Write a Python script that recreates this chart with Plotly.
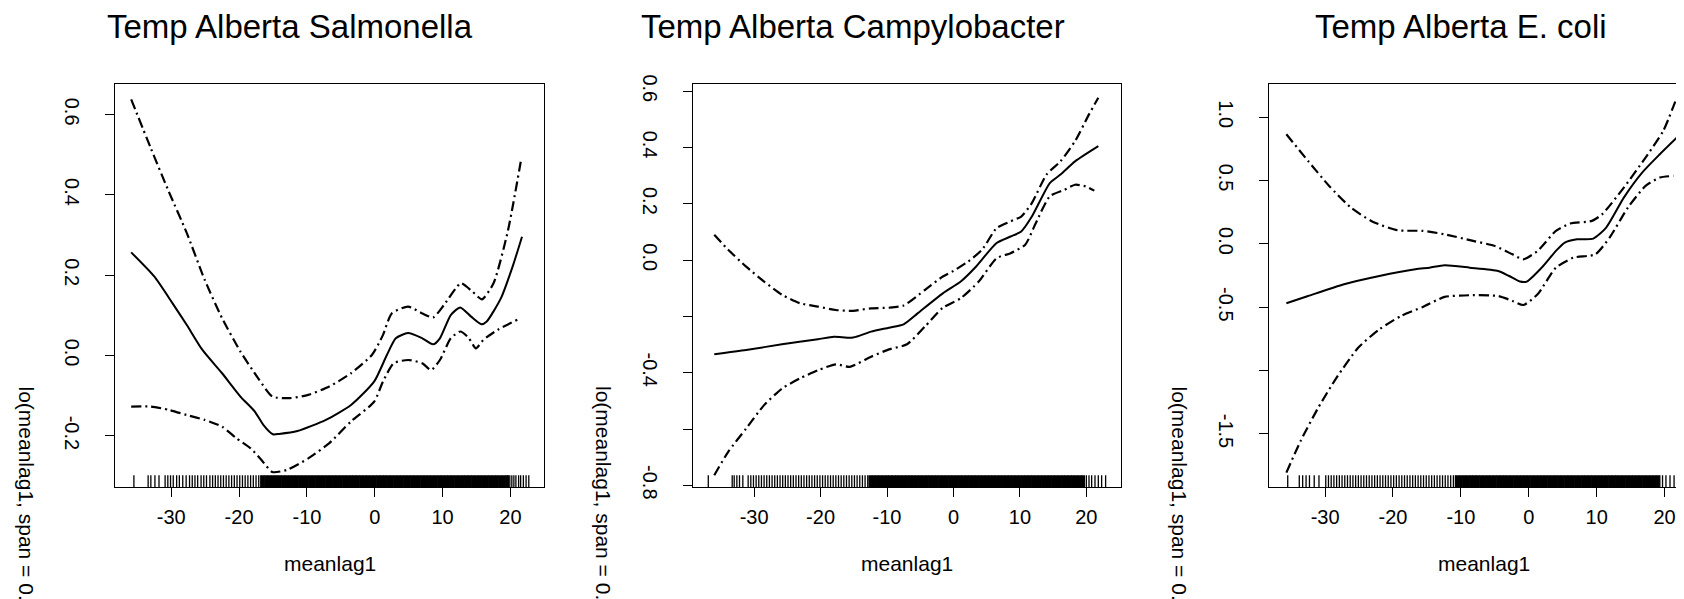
import plotly.graph_objects as go

W, H = 1684, 599
FONT = "Liberation Sans, Arial, Helvetica, sans-serif"

titles = ["Temp Alberta Salmonella", "Temp Alberta Campylobacter", "Temp Alberta E. coli"]
x_axis_title = "meanlag1"
y_axis_title = "lo(meanlag1, span = 0.5)"

x_tick_vals = [-30, -20, -10, 0, 10, 20]
x_tick_text = ["-30", "-20", "-10", "0", "10", "20"]

y_tick_vals_1 = [-0.2, 0.0, 0.2, 0.4, 0.6]
y_tick_text_1 = ["-0.2", "0.0", "0.2", "0.4", "0.6"]
y_tick_vals_2 = [-0.8, -0.6, -0.4, -0.2, 0.0, 0.2, 0.4, 0.6]
y_tick_text_2 = ["-0.8", "", "-0.4", "", "0.0", "0.2", "0.4", "0.6"]
y_tick_vals_3 = [-1.5, -1.0, -0.5, 0.0, 0.5, 1.0]
y_tick_text_3 = ["-1.5", "", "-0.5", "0.0", "0.5", "1.0"]

# ---- Panel 1: Salmonella ----
fit_x_1 = [-35.9, -32.5, -29.8, -27.7, -25.4, -22.5, -19.8, -17.7, -16.4, -15.0, -14.1, -11.4, -7.2, -3.5,
           -0.1, 1.8, 3.1, 4.9, 7.0, 8.6, 9.6, 11.2, 12.6, 14.2, 15.7, 16.5, 18.6, 20.4, 21.7]
fit_y_1 = [0.257, 0.197, 0.130, 0.076, 0.014, -0.044, -0.102, -0.139, -0.173, -0.196, -0.195, -0.188, -0.160,
           -0.123, -0.065, 0.002, 0.043, 0.056, 0.043, 0.028, 0.043, 0.101, 0.120, 0.097, 0.078, 0.085, 0.143,
           0.226, 0.296]
up_x_1 = [-35.9, -33.0, -30.4, -27.7, -25.1, -22.5, -19.8, -17.2, -15.1, -12.5, -9.8, -6.7, -3.5, -0.4, 1.2,
          2.5, 4.9, 7.0, 8.6, 10.2, 12.7, 14.4, 15.8, 17.5, 19.6, 21.6]
up_y_1 = [0.638, 0.516, 0.410, 0.305, 0.190, 0.093, 0.010, -0.056, -0.102, -0.106, -0.098, -0.077, -0.044,
          0.002, 0.051, 0.105, 0.122, 0.105, 0.095, 0.126, 0.180, 0.159, 0.140, 0.180, 0.309, 0.491]
lo_x_1 = [-35.9, -33.0, -30.4, -27.7, -25.1, -22.5, -20.4, -18.3, -16.7, -15.1, -13.0, -9.8, -6.7, -3.5, -0.1,
          1.2, 2.8, 4.9, 7.0, 8.3, 9.6, 11.2, 12.6, 13.8, 14.9, 16.0, 18.1, 21.0]
lo_y_1 = [-0.127, -0.127, -0.135, -0.148, -0.160, -0.177, -0.206, -0.231, -0.260, -0.290, -0.285, -0.256,
          -0.218, -0.164, -0.115, -0.065, -0.019, -0.011, -0.019, -0.036, -0.011, 0.043, 0.060, 0.045, 0.018,
          0.039, 0.064, 0.089]

# ---- Panel 2: Campylobacter ----
fit_x_2 = [-36.0, -31.2, -25.8, -20.4, -18.0, -15.1, -12.4, -9.7, -7.5, -5.4, -1.6, 1.1, 3.2, 6.5, 8.6, 10.2,
           11.8, 14.5, 16.1, 18.3, 21.8]
fit_y_2 = [-0.334, -0.319, -0.299, -0.281, -0.272, -0.275, -0.254, -0.240, -0.228, -0.189, -0.118, -0.076,
           -0.028, 0.061, 0.084, 0.102, 0.155, 0.274, 0.304, 0.351, 0.405]
up_x_2 = [-36.0, -33.9, -31.2, -28.5, -25.8, -23.1, -20.4, -17.7, -15.1, -12.4, -9.7, -7.5, -4.3, -1.6, 0.0,
          2.2, 4.3, 6.5, 8.6, 10.2, 11.8, 14.0, 16.1, 18.3, 20.4, 21.8]
up_y_2 = [0.090, 0.037, -0.023, -0.076, -0.123, -0.153, -0.165, -0.177, -0.180, -0.171, -0.169, -0.161,
          -0.106, -0.058, -0.038, -0.005, 0.037, 0.114, 0.138, 0.155, 0.203, 0.304, 0.351, 0.423, 0.518, 0.577]
lo_x_2 = [-36.0, -33.9, -31.2, -28.5, -25.8, -23.1, -20.4, -17.7, -15.6, -12.4, -9.7, -7.0, -4.3, -1.6, 1.1,
          3.8, 6.5, 8.6, 10.8, 12.4, 14.5, 16.7, 18.3, 19.9, 21.2]
lo_y_2 = [-0.764, -0.681, -0.598, -0.515, -0.456, -0.420, -0.391, -0.370, -0.379, -0.343, -0.317, -0.299,
          -0.236, -0.169, -0.135, -0.076, 0.007, 0.025, 0.055, 0.132, 0.227, 0.250, 0.268, 0.262, 0.247]

# ---- Panel 3: E. coli ----
fit_x_3 = [-35.7, -32.5, -27.2, -22.0, -16.7, -14.6, -12.4, -8.7, -4.5, -2.9, -1.3, -0.3, 1.9, 4.0, 5.3, 7.1,
           9.5, 11.4, 14.0, 16.7, 19.3, 21.8]
fit_y_3 = [-0.468, -0.411, -0.318, -0.253, -0.200, -0.187, -0.168, -0.187, -0.213, -0.253, -0.297, -0.297,
           -0.187, -0.055, 0.011, 0.037, 0.042, 0.129, 0.366, 0.563, 0.708, 0.839]
up_x_3 = [-35.7, -32.5, -29.4, -26.2, -23.0, -19.3, -15.6, -12.4, -8.2, -5.0, -2.4, -0.8, 1.3, 4.0, 6.1, 9.3,
          10.8, 14.0, 17.2, 19.8, 21.8]
up_y_3 = [0.866, 0.655, 0.458, 0.287, 0.176, 0.108, 0.103, 0.076, 0.024, -0.016, -0.082, -0.121, -0.055,
          0.103, 0.161, 0.182, 0.234, 0.445, 0.682, 0.892, 1.155]
lo_x_3 = [-35.7, -33.6, -31.0, -28.3, -25.1, -22.0, -18.8, -15.6, -12.4, -8.7, -4.5, -2.4, -0.8, 1.3, 4.0, 6.6,
          9.8, 11.9, 14.6, 17.2, 19.3, 21.3]
lo_y_3 = [-1.805, -1.555, -1.292, -1.055, -0.818, -0.674, -0.568, -0.497, -0.418, -0.405, -0.411, -0.450,
          -0.482, -0.397, -0.187, -0.108, -0.082, 0.050, 0.287, 0.458, 0.524, 0.537]

# ---- Rug (observed meanlag1 values) ----
rug_sparse_1 = [-35.5, -33.4, -33.0, -32.4, -31.8, -30.9, -30.5, -30.1, -29.7, -29.2, -28.8, -28.3, -27.8,
                -27.3, -26.9, -26.5, -26.1, -25.6, -25.2, -24.8, -24.3, -23.9, -23.5, -23.1, -22.7, -22.3,
                -21.9, -21.5, -21.1, -20.7, -20.3, -19.9, -19.5, -19.1, -18.7, -18.3, -17.9, -17.5, -17.1,
                -16.8, 19.6, 19.9, 20.2, 20.5, 20.8, 21.2, 21.5, 21.9, 22.3, 22.7]
rug_sparse_2 = [-36.9, -33.3, -33.0, -32.6, -32.2, -31.7, -30.9, -30.5, -30.1, -29.7, -29.3, -28.9, -28.5,
                -28.1, -27.7, -27.3, -26.9, -26.5, -26.1, -25.7, -25.3, -24.9, -24.5, -24.1, -23.7, -23.3,
                -22.9, -22.5, -22.1, -21.7, -21.3, -20.9, -20.5, -20.1, -19.7, -19.3, -18.9, -18.5, -18.1,
                -17.7, -17.3, -16.9, -16.5, -16.1, -15.7, -15.3, -14.9, -14.5, -14.1, -13.7, -13.3, -12.9,
                20.0, 20.4, 20.8, 21.3, 21.8, 22.3, 22.9]
rug_sparse_3 = [-35.5, -33.8, -33.3, -32.8, -32.3, -31.6, -30.9, -29.9, -29.5, -29.1, -28.7, -28.3, -27.9,
                -27.5, -27.1, -26.7, -26.3, -25.9, -25.5, -25.1, -24.7, -24.3, -23.9, -23.5, -23.1, -22.7,
                -22.3, -21.9, -21.5, -21.1, -20.7, -20.3, -19.9, -19.5, -19.1, -18.7, -18.3, -17.9, -17.5,
                -17.1, -16.7, -16.3, -15.9, -15.5, -15.1, -14.7, -14.3, -13.9, -13.5, -13.1, -12.7, -12.3,
                -11.9, -11.5, -11.1, -10.8, 19.3, 19.7, 20.2, 20.8, 21.4, 22.0, 22.6]
rug_dense = [-16.5, -16.0, -15.5, -15.0, -14.5, -14.0, -13.5, -13.0, -12.5, -12.0, -11.5, -11.0, -10.5, -10.0,
             -9.5, -9.0, -8.5, -8.0, -7.5, -7.0, -6.5, -6.0, -5.5, -5.0, -4.5, -4.0, -3.5, -3.0, -2.5, -2.0,
             -1.5, -1.0, -0.5, 0.0, 0.5, 1.0, 1.5, 2.0, 2.5, 3.0, 3.5, 4.0, 4.5, 5.0, 5.5, 6.0, 6.5, 7.0, 7.5,
             8.0, 8.5, 9.0, 9.5, 10.0, 10.5, 11.0, 11.5, 12.0, 12.5, 13.0, 13.5, 14.0, 14.5, 15.0, 15.5, 16.0,
             16.5, 17.0, 17.5, 18.0, 18.5, 19.0, 19.5]
dense_bounds = [(-16.5, 19.5), (-12.5, 19.5), (-10.5, 19.0)]

# ---- layout geometry (pixels) ----
def px(x):
    return x / W

def py(y):
    return 1 - y / H

x_domains_px = [(107.1, 536.4), (684.6, 1112.9), (1261.4, 1684.0)]
y_domain_px = (75.7, 479.3)
x_ranges = [(-38.27, 25.0), (-39.26, 25.2), (-38.2, 24.04)]
y_ranges = [(-0.328, 0.677), (-0.807, 0.627), (-1.921, 1.265)]
title_cx = [282, 845, 1453]
xtitle_cx = [321.8, 898.8, 1476.0]
ytitle_cx = [18.0, 595.5, 1171.0]
RUG_PX = 12.0

panels = [
    (fit_x_1, fit_y_1, up_x_1, up_y_1, lo_x_1, lo_y_1, rug_sparse_1, y_tick_vals_1, y_tick_text_1),
    (fit_x_2, fit_y_2, up_x_2, up_y_2, lo_x_2, lo_y_2, rug_sparse_2, y_tick_vals_2, y_tick_text_2),
    (fit_x_3, fit_y_3, up_x_3, up_y_3, lo_x_3, lo_y_3, rug_sparse_3, y_tick_vals_3, y_tick_text_3),
]

fig = go.Figure()
annotations = []
layout_axes = {}
DASH = "10px,4px,2px,4px"

for i, (fx, fy, ux, uy, lx, ly, rs, ytv, ytt) in enumerate(panels):
    n = "" if i == 0 else str(i + 1)
    xa, ya = "x" + n, "y" + n
    y0, y1 = y_ranges[i]
    rug_len = (y1 - y0) * RUG_PX / (y_domain_px[1] - y_domain_px[0])

    def rug_xy(vals):
        xs, ys = [], []
        for v in vals:
            xs += [v, v, None]
            ys += [y0, y0 + rug_len, None]
        return xs, ys

    lo_b, hi_b = dense_bounds[i]
    dense_vals = [v for v in rug_dense if lo_b <= v <= hi_b]
    rx, ry = rug_xy(rs)
    fig.add_trace(go.Scatter(x=rx, y=ry, mode="lines", line=dict(color="black", width=1.3),
                             xaxis=xa, yaxis=ya, showlegend=False, hoverinfo="skip"))
    dx, dy = rug_xy(dense_vals)
    fig.add_trace(go.Scatter(x=dx, y=dy, mode="lines", line=dict(color="black", width=4),
                             xaxis=xa, yaxis=ya, showlegend=False, hoverinfo="skip"))

    spline = dict(shape="spline", smoothing=0.6)
    fig.add_trace(go.Scatter(x=ux, y=uy, mode="lines",
                             line=dict(color="black", width=2.2, dash=DASH, **spline),
                             xaxis=xa, yaxis=ya, showlegend=False))
    fig.add_trace(go.Scatter(x=lx, y=ly, mode="lines",
                             line=dict(color="black", width=2.2, dash=DASH, **spline),
                             xaxis=xa, yaxis=ya, showlegend=False))
    fig.add_trace(go.Scatter(x=fx, y=fy, mode="lines", line=dict(color="black", width=2, **spline),
                             xaxis=xa, yaxis=ya, showlegend=False))

    layout_axes["xaxis" + n] = dict(
        domain=[px(x_domains_px[i][0]), px(x_domains_px[i][1])], range=list(x_ranges[i]),
        anchor=ya, tickmode="array", tickvals=x_tick_vals, ticktext=x_tick_text,
        ticks="outside", ticklen=9, tickwidth=1, tickcolor="black",
        showline=True, linecolor="black", linewidth=1, mirror=True,
        showgrid=False, zeroline=False, automargin=False,
        tickfont=dict(family=FONT, size=20, color="black"), ticklabelstandoff=3,
    )
    layout_axes["yaxis" + n] = dict(
        domain=[py(y_domain_px[1]), py(y_domain_px[0])], range=[y0, y1],
        anchor=xa, tickmode="array", tickvals=ytv, ticktext=ytt,
        ticks="outside", ticklen=9, tickwidth=1, tickcolor="black",
        showline=True, linecolor="black", linewidth=1, mirror=(i < 2),
        showgrid=False, zeroline=False, automargin=False, tickangle=90,
        tickfont=dict(family=FONT, size=20, color="black"),
        ticklabelstandoff=16,
    )

    annotations.append(dict(text=titles[i], x=px(title_cx[i]), y=py(18.5), xref="paper", yref="paper",
                            xanchor="center", yanchor="middle", showarrow=False,
                            font=dict(family=FONT, size=33, color="black")))
    annotations.append(dict(text=x_axis_title, x=px(xtitle_cx[i]), y=py(555), xref="paper", yref="paper",
                            xanchor="center", yanchor="middle", showarrow=False,
                            font=dict(family=FONT, size=21, color="black")))
    annotations.append(dict(text=y_axis_title, x=px(ytitle_cx[i]), y=py(376), xref="paper", yref="paper",
                            xanchor="center", yanchor="top", textangle=90, showarrow=False,
                            font=dict(family=FONT, size=21, color="black")))

fig.update_layout(
    width=W, height=H, margin=dict(l=0, r=0, t=0, b=0),
    paper_bgcolor="white", plot_bgcolor="white", showlegend=False,
    annotations=annotations, **layout_axes,
)

fig.write_html("out.html")
